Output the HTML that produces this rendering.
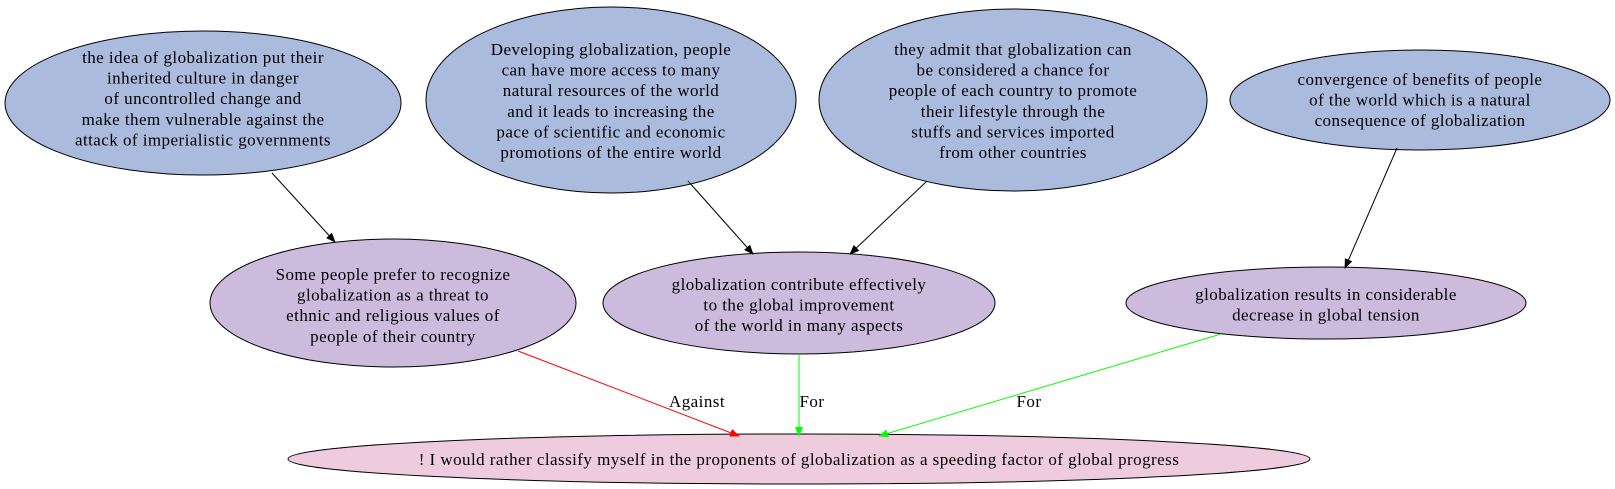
<!DOCTYPE html>
<html><head><meta charset="utf-8"><style>html,body{margin:0;padding:0;background:#fff}svg{display:block}</style></head>
<body>
<svg width="1615" height="489" viewBox="0 0 1615 489" xmlns="http://www.w3.org/2000/svg" font-family="Liberation Serif, serif" font-size="17" letter-spacing="0.45" text-anchor="middle">
<defs>
<marker id="ab" markerWidth="10" markerHeight="8" refX="9" refY="4" orient="auto" markerUnits="userSpaceOnUse"><path d="M0,0 L10,4 L0,8z" fill="#000"/></marker>
<marker id="ar" markerWidth="10" markerHeight="8" refX="9" refY="4" orient="auto" markerUnits="userSpaceOnUse"><path d="M0,0 L10,4 L0,8z" fill="#f00"/></marker>
<marker id="ag" markerWidth="10" markerHeight="8" refX="9" refY="4" orient="auto" markerUnits="userSpaceOnUse"><path d="M0,0 L10,4 L0,8z" fill="#0f0"/></marker>
</defs>
<g stroke="#000" stroke-width="1">
<ellipse cx="203" cy="103" rx="198" ry="72" fill="#aabbdd"/>
<ellipse cx="611" cy="100" rx="185" ry="93" fill="#aabbdd"/>
<ellipse cx="1013" cy="100" rx="194" ry="91" fill="#aabbdd"/>
<ellipse cx="1420" cy="100" rx="190" ry="50" fill="#aabbdd"/>
<ellipse cx="393" cy="303" rx="183" ry="64" fill="#ccbbdd"/>
<ellipse cx="799" cy="303" rx="196" ry="51" fill="#ccbbdd"/>
<ellipse cx="1326" cy="303" rx="200" ry="36" fill="#ccbbdd"/>
<ellipse cx="799" cy="459" rx="511" ry="25" fill="#eeccdd"/>
<line x1="272" y1="173" x2="335" y2="242" marker-end="url(#ab)"/>
<line x1="688" y1="181" x2="753" y2="254" marker-end="url(#ab)"/>
<line x1="927" y1="181" x2="850" y2="254" marker-end="url(#ab)"/>
<line x1="1397" y1="148" x2="1345" y2="268" marker-end="url(#ab)"/>
<line x1="518" y1="351" x2="739" y2="436" stroke="#f00" marker-end="url(#ar)"/>
<line x1="799" y1="354" x2="799" y2="436" stroke="#0f0" marker-end="url(#ag)"/>
<line x1="1221" y1="334" x2="879" y2="436" stroke="#0f0" marker-end="url(#ag)"/>
</g>
<text x="697" y="407">Against</text><text x="812" y="407">For</text><text x="1029" y="407">For</text>
<text x="203" y="63"><tspan x="203">the idea of globalization put their</tspan><tspan x="203" dy="20.6">inherited culture in danger</tspan><tspan x="203" dy="20.6">of uncontrolled change and</tspan><tspan x="203" dy="20.6">make them vulnerable against the</tspan><tspan x="203" dy="20.6">attack of imperialistic governments</tspan></text>
<text x="611" y="55"><tspan x="611">Developing globalization, people</tspan><tspan x="611" dy="20.6">can have more access to many</tspan><tspan x="611" dy="20.6">natural resources of the world</tspan><tspan x="611" dy="20.6">and it leads to increasing the</tspan><tspan x="611" dy="20.6">pace of scientific and economic</tspan><tspan x="611" dy="20.6">promotions of the entire world</tspan></text>
<text x="1013" y="55"><tspan x="1013">they admit that globalization can</tspan><tspan x="1013" dy="20.6">be considered a chance for</tspan><tspan x="1013" dy="20.6">people of each country to promote</tspan><tspan x="1013" dy="20.6">their lifestyle through the</tspan><tspan x="1013" dy="20.6">stuffs and services imported</tspan><tspan x="1013" dy="20.6">from other countries</tspan></text>
<text x="1420" y="85"><tspan x="1420">convergence of benefits of people</tspan><tspan x="1420" dy="20.6">of the world which is a natural</tspan><tspan x="1420" dy="20.6">consequence of globalization</tspan></text>
<text x="393" y="280"><tspan x="393">Some people prefer to recognize</tspan><tspan x="393" dy="20.6">globalization as a threat to</tspan><tspan x="393" dy="20.6">ethnic and religious values of</tspan><tspan x="393" dy="20.6">people of their country</tspan></text>
<text x="799" y="290"><tspan x="799">globalization contribute effectively</tspan><tspan x="799" dy="20.6">to the global improvement</tspan><tspan x="799" dy="20.6">of the world in many aspects</tspan></text>
<text x="1326" y="300"><tspan x="1326">globalization results in considerable</tspan><tspan x="1326" dy="20.6">decrease in global tension</tspan></text>
<text x="799" y="465">! I would rather classify myself in the proponents of globalization as a speeding factor of global progress</text>
</svg>
</body></html>
